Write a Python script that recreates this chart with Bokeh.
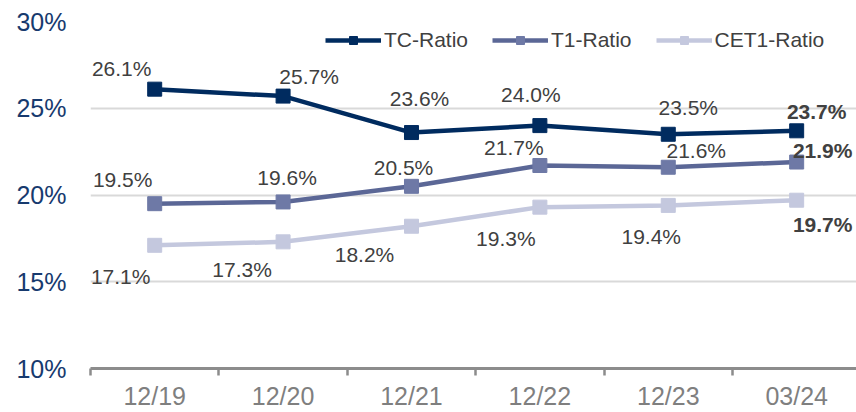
from bokeh.plotting import figure
from bokeh.models import (ColumnDataSource, FixedTicker, PrintfTickFormatter, Legend, LegendItem,
                          Label, Range1d)
from bokeh.embed import file_html
from bokeh.resources import INLINE

categories = ["12/19", "12/20", "12/21", "12/22", "12/23", "03/24"]
tc_ratio = [26.1, 25.7, 23.6, 24.0, 23.5, 23.7]
t1_ratio = [19.5, 19.6, 20.5, 21.7, 21.6, 21.9]
cet1_ratio = [17.1, 17.3, 18.2, 19.3, 19.4, 19.7]
y_ticks = [10, 15, 20, 25, 30]

# label offsets in screen px (style only; x right, y down)
tc_off = [(-33, -21), (26, -20), (8, -34), (-9, -31), (20, -27), (20, -19)]
t1_off = [(-32, -24), (4, -24), (-8, -19), (-26, -18), (28, -17), (26, -12)]
cet1_off = [(-34, 31), (-41, 28), (-47, 28), (-34, 31), (-17, 31), (26, 24)]

FONT = "Liberation Sans"
n = len(categories)
xs = [i + 0.5 for i in range(n)]

p = figure(width=856, height=412, output_backend="svg", toolbar_location=None,
           x_range=Range1d(0, n - 0.034), y_range=Range1d(10, 30),
           min_border_left=90, min_border_right=0, min_border_top=21, min_border_bottom=44)
p.outline_line_color = None
p.background_fill_color = "white"

p.xgrid.grid_line_color = None
p.ygrid.grid_line_color = "#d9d9d9"
p.ygrid.grid_line_width = 2
p.ygrid.ticker = FixedTicker(ticks=y_ticks[1:])

p.yaxis.ticker = FixedTicker(ticks=y_ticks)
p.yaxis.formatter = PrintfTickFormatter(format="%d%%")
p.yaxis.axis_line_color = None
p.yaxis.major_tick_line_color = None
p.yaxis.minor_tick_line_color = None
p.yaxis.major_tick_out = 0
p.yaxis.minor_tick_out = 0
p.yaxis.major_label_text_font = FONT
p.yaxis.major_label_text_font_size = "25px"
p.yaxis.major_label_text_color = "#173a6e"
p.yaxis.major_label_standoff = 24

p.xaxis.ticker = FixedTicker(ticks=xs, minor_ticks=list(range(n + 1)))
p.xaxis.major_label_overrides = {x: c for x, c in zip(xs, categories)}
p.xaxis.axis_line_color = "#8c8c8c"
p.xaxis.axis_line_width = 3
p.xaxis.major_tick_line_color = None
p.xaxis.major_tick_out = 0
p.xaxis.major_tick_in = 0
p.xaxis.minor_tick_line_color = "#8c8c8c"
p.xaxis.minor_tick_line_width = 2.5
p.xaxis.minor_tick_out = 0
p.xaxis.minor_tick_in = -7
p.xaxis.major_label_text_font = FONT
p.xaxis.major_label_text_font_size = "25px"
p.xaxis.major_label_text_color = "#7f7f7f"
p.xaxis.major_label_standoff = 13

series = [
    ("CET1-Ratio", cet1_ratio, "#c4c8de", "#c4c8de", cet1_off),
    ("T1-Ratio", t1_ratio, "#5b6796", "#6e79a6", t1_off),
    ("TC-Ratio", tc_ratio, "#002b5f", "#002b5f", tc_off),
]
items = {}
for name, vals, lc, mc, offs in series:
    src = ColumnDataSource(dict(x=xs, y=vals))
    lr = p.line("x", "y", source=src, line_color=lc, line_width=4.5)
    sr = p.scatter("x", "y", source=src, marker="square", size=14, fill_color=mc, line_color=mc)
    items[name] = [lr, sr]
    for i, (xv, v) in enumerate(zip(xs, vals)):
        p.add_layout(Label(x=xv, y=v, text=f"{v:.1f}%", x_offset=offs[i][0], y_offset=-offs[i][1],
                           text_align="center", text_baseline="middle", text_font=FONT,
                           text_font_size="21px", text_color="#404040",
                           text_font_style="bold" if i == n - 1 else "normal"))

legend = Legend(items=[LegendItem(label=k, renderers=items[k]) for k in ["TC-Ratio", "T1-Ratio", "CET1-Ratio"]],
                orientation="horizontal", location=(235, 316),
                glyph_width=56, glyph_height=20, label_standoff=3, spacing=24,
                padding=0, margin=0, border_line_color=None, background_fill_alpha=0,
                label_text_font=FONT, label_text_font_size="21px", label_text_color="#404040")
p.add_layout(legend)

open("out.html", "w").write(file_html(p, INLINE))
